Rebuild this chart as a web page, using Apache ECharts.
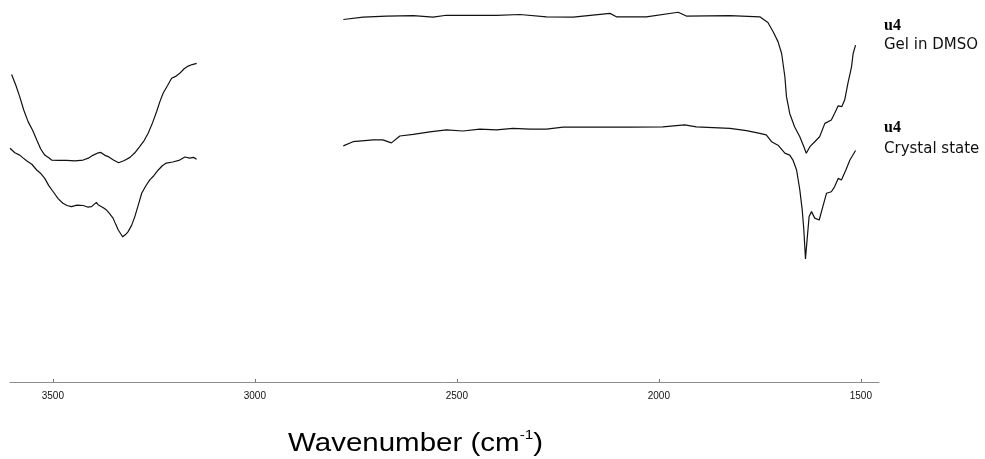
<!DOCTYPE html>
<html>
<head>
<meta charset="utf-8">
<script src="https://cdn.jsdelivr.net/npm/echarts@6/dist/echarts.min.js"></script>
<style>
html,body{margin:0;padding:0;background:#fff;}
#chart{width:985px;height:459px;}
</style>
</head>
<body>
<div id="chart"></div>
<script>
// Tick labels (wavenumber, cm-1)
const tickValues = [1500, 2000, 2500, 3000, 3500];

// Gel in DMSO – 3600-3140 cm-1 window
const gelLeftWn = [3602,3592,3582,3572,3561,3550,3540,3530,3520,3510,3503,3485,3466,3445,3425,3412,3400,3390,3381,3372,3363,3350,3337,3323,3309,3297,3285,3274,3264,3253,3243,3235,3227,3216,3206,3196,3186,3175,3165,3155,3144];
const gelLeftT  = [80.5,77.8,74.7,71.2,68.1,65.9,63.4,61.0,59.4,58.7,58.1,58.0,58.0,57.9,58.1,58.6,59.4,59.9,60.1,59.4,59.0,58.1,57.4,58.0,58.8,60.0,61.6,63.2,65.1,67.9,70.8,73.4,75.6,77.6,79.5,80.0,80.8,82.0,82.7,83.1,83.4];

// Crystal state – 3600-3140 cm-1 window
const crystalLeftWn = [3606,3594,3582,3573,3565,3552,3540,3530,3520,3510,3499,3487,3475,3465,3454,3440,3425,3414,3404,3398,3392,3388,3384,3375,3367,3359,3351,3344,3338,3332,3327,3320,3314,3305,3297,3288,3280,3270,3260,3250,3239,3229,3219,3203,3186,3173,3161,3152,3144];
const crystalLeftT  = [61.2,60.0,59.4,58.6,57.9,57.0,55.5,54.6,53.3,51.4,49.8,48.0,46.8,46.2,45.9,46.3,46.2,45.8,45.9,46.5,47.0,46.4,46.2,45.6,45.0,44.0,42.9,41.2,39.8,38.8,38.0,38.6,39.3,41.0,43.3,46.5,49.4,51.3,52.9,54.0,55.5,56.6,57.3,57.6,58.1,58.9,58.6,58.8,58.3];

// Gel in DMSO – 2780-1510 cm-1 window
const gelRightWn = [2781,2732,2674,2608,2559,2526,2402,2344,2278,2212,2121,2105,2031,1952,1932,1824,1750,1730,1717,1705,1696,1688,1684,1676,1664,1651,1641,1635,1626,1614,1602,1589,1573,1565,1556,1547,1540,1532,1523,1519,1513];
const gelRightT  = [94.9,95.5,95.8,95.9,95.5,96.0,96.0,96.2,95.6,95.5,96.5,95.6,95.6,96.8,95.8,95.9,95.6,94.1,91.7,89.1,86.0,79.9,74.7,70.3,66.8,64.2,61.6,59.9,61.6,62.9,64.2,67.7,68.6,70.3,72.3,72.1,73.8,78.2,82.5,86.0,88.2];

// Crystal state – 2780-1510 cm-1 window
const crystalRightWn = [2781,2757,2707,2683,2662,2641,2608,2567,2526,2485,2443,2402,2361,2319,2278,2237,2154,2072,1990,1936,1907,1824,1783,1750,1734,1721,1705,1688,1676,1668,1659,1651,1645,1641,1637,1633,1628,1622,1614,1603,1594,1585,1573,1565,1556,1548,1537,1527,1513];
const crystalRightT  = [61.8,62.9,63.4,63.4,62.6,64.4,64.8,65.5,66.0,65.7,66.2,66.0,66.4,66.2,66.2,66.7,66.7,66.7,66.8,67.3,66.8,66.4,65.8,65.1,64.7,62.9,62.0,59.9,59.4,58.1,55.5,50.3,45.0,39.8,32.2,37.2,43.3,44.6,42.9,42.4,45.9,49.4,49.8,51.1,53.3,52.9,55.5,58.1,60.6];

const xTitle = 'Wavenumber (cm';
const xTitleSup = '-1';
const labelBold = 'u4';
const gelLabel = 'Gel in DMSO';
const crystalLabel = 'Crystal state';

function zip(a, b) { return a.map((v, i) => [v, b[i]]); }

const lineStyle = { color: '#111', width: 1.2 };
function mk(name, wn, t) {
  return { name, type: 'line', data: zip(wn, t), showSymbol: false, symbol: 'none',
           lineStyle, silent: true, animation: false };
}

const chart = echarts.init(document.getElementById('chart'), null, { renderer: 'canvas' });
chart.setOption({
  backgroundColor: '#fff',
  animation: false,
  grid: { left: 10, right: 106, top: 0, bottom: 77, containLabel: false },
  xAxis: {
    type: 'value', inverse: true, min: 1455, max: 3606,
    axisLine: { show: true, lineStyle: { color: '#8c8c8c', width: 1 } },
    axisTick: { show: true, inside: true, length: 3, customValues: tickValues, lineStyle: { color: '#777' } },
    axisLabel: { customValues: tickValues, margin: 9, fontSize: 10, fontFamily: 'Liberation Sans', color: '#111',
                 formatter: v => String(v) },
    splitLine: { show: false }
  },
  yAxis: { type: 'value', min: 0, max: 100, show: false, splitLine: { show: false } },
  series: [
    mk('gelL', gelLeftWn, gelLeftT),
    mk('gelR', gelRightWn, gelRightT),
    mk('cryL', crystalLeftWn, crystalLeftT),
    mk('cryR', crystalRightWn, crystalRightT)
  ],
  graphic: [
    { type: 'text', x: 884, y: 26, style: { text: labelBold, fontFamily: 'Liberation Serif', fontWeight: 'bold', fontSize: 16, fill: '#000', verticalAlign: 'middle' } },
    { type: 'text', x: 884, y: 45, style: { text: gelLabel, fontFamily: 'DejaVu Sans', fontSize: 15, fill: '#111', verticalAlign: 'middle' } },
    { type: 'text', x: 884, y: 128, style: { text: labelBold, fontFamily: 'Liberation Serif', fontWeight: 'bold', fontSize: 16, fill: '#000', verticalAlign: 'middle' } },
    { type: 'text', x: 884, y: 149, style: { text: crystalLabel, fontFamily: 'DejaVu Sans', fontSize: 15, fill: '#111', verticalAlign: 'middle' } },
    { type: 'text', x: 288, y: 444, scaleX: 1.18,
      style: { text: '{a|' + xTitle + '}{s|' + xTitleSup + '}{a|)}', verticalAlign: 'middle', fill: '#000',
        rich: {
          a: { fontFamily: 'Liberation Sans', fontSize: 25, lineHeight: 30, fill: '#000' },
          s: { fontFamily: 'Liberation Sans', fontSize: 13, lineHeight: 13, verticalAlign: 'top', fill: '#000' }
        } } }
  ]
});
</script>
</body>
</html>
